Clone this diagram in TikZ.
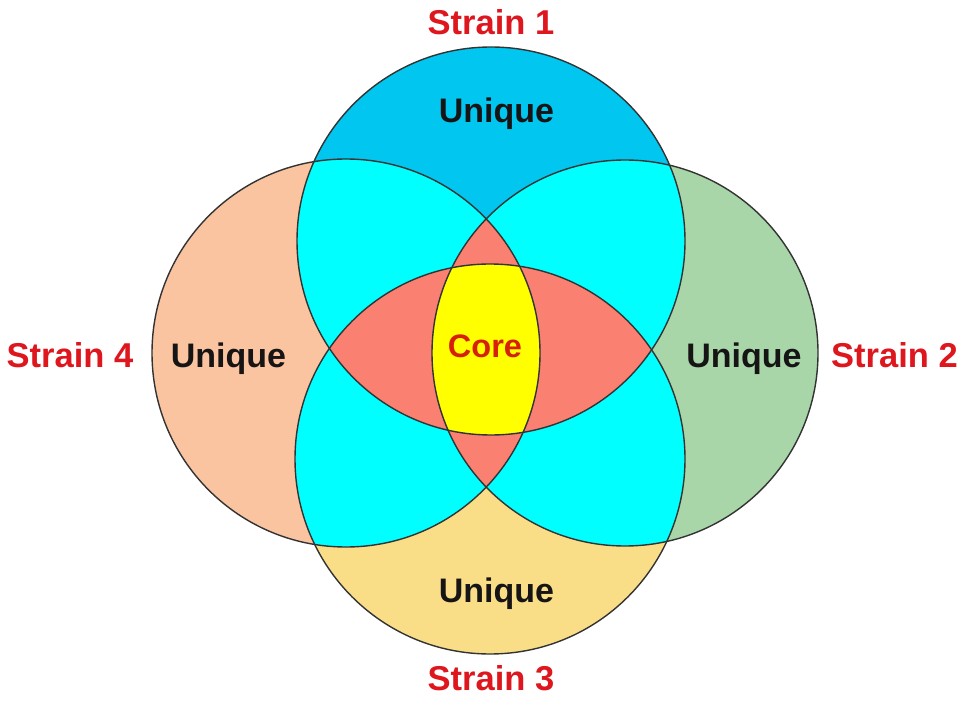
\documentclass[tikz,border=0pt]{standalone}
\usepackage{fontspec}
\setmainfont{Liberation Sans}
\definecolor{ublue}{RGB}{0,198,240}
\definecolor{ucyan}{RGB}{0,255,255}
\definecolor{usalmon}{RGB}{250,128,114}
\definecolor{ucore}{RGB}{255,255,0}
\definecolor{upeach}{RGB}{250,196,160}
\definecolor{ugreen}{RGB}{168,214,168}
\definecolor{ukhaki}{RGB}{250,222,135}
\definecolor{ured}{RGB}{222,22,30}
\definecolor{ucorered}{RGB}{215,32,8}
\definecolor{utext}{RGB}{22,20,20}
\begin{document}
\begin{tikzpicture}[x=1pt,y=-1pt,
  outline/.style={draw=black!80,line width=1.4pt},
  strainlabel/.style={text=ured,font=\fontsize{34.5}{40}\selectfont\bfseries,inner sep=0pt,anchor=base},
  uniquelabel/.style={text=utext,font=\fontsize{34}{40}\selectfont\bfseries,inner sep=0pt,anchor=base},
  corelabel/.style={text=ucorered,font=\fontsize{32.5}{40}\selectfont\bfseries,inner sep=0pt,anchor=base}]
\useasboundingbox (0,0) rectangle (959,703);
\fill[white] (0,0) rectangle (959,703);
\def\CT{(491,241) circle (194)}
\def\CB{(490,459) circle (195)}
\def\CL{(346,353) circle (194)}
\def\CR{(625,353) circle (193)}
% unique
\fill[ublue] \CT;
\fill[ugreen] \CR;
\fill[ukhaki] \CB;
\fill[upeach] \CL;
% pairs
\begin{scope}\clip \CT; \fill[ucyan] \CL; \fill[ucyan] \CR; \fill[ucyan] \CB; \end{scope}
\begin{scope}\clip \CB; \fill[ucyan] \CL; \fill[ucyan] \CR; \end{scope}
\begin{scope}\clip \CL; \fill[ucyan] \CR; \end{scope}
% triples
\begin{scope}\clip \CT; \clip \CL; \fill[usalmon] \CR; \fill[usalmon] \CB; \end{scope}
\begin{scope}\clip \CT; \clip \CR; \fill[usalmon] \CB; \end{scope}
\begin{scope}\clip \CB; \clip \CL; \fill[usalmon] \CR; \end{scope}
% core
\begin{scope}\clip \CT; \clip \CB; \clip \CL; \fill[ucore] \CR; \end{scope}
% outlines
\draw[outline] \CT;
\draw[outline] \CR;
\draw[outline] \CB;
\draw[outline] \CL;
% labels
\node[strainlabel] (s1) at (491,35) {Strain 1};
\node[strainlabel] (s2) at (894.5,367) {Strain 2};
\node[strainlabel] (s3) at (491,690) {Strain 3};
\node[strainlabel] (s4) at (70,367) {Strain 4};
\node[uniquelabel] (u1) at (496.5,123) {Unique};
\node[uniquelabel] (u2) at (744,367) {Unique};
\node[uniquelabel] (u3) at (496.5,602) {Unique};
\node[uniquelabel] (u4) at (228.5,367) {Unique};
\node[corelabel] (core) at (485,358) {Core};
\end{tikzpicture}
\end{document}
